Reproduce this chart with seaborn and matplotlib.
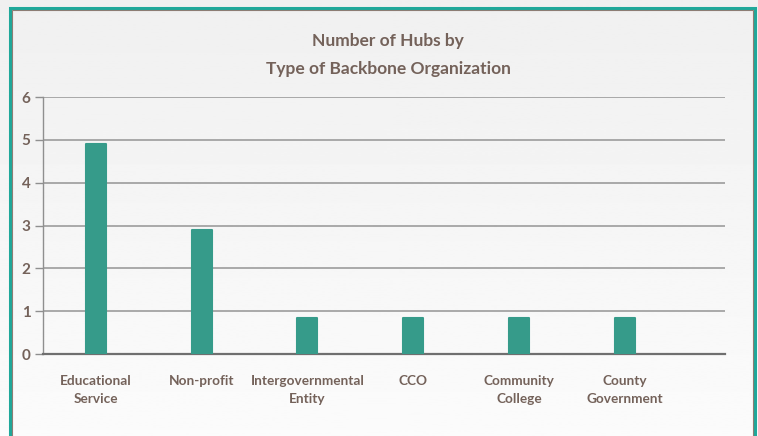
import numpy as np
import pandas as pd
import matplotlib
matplotlib.use("Agg")
import matplotlib.pyplot as plt
from matplotlib.patches import Rectangle
import seaborn as sns

# data
categories = ["Educational\nService", "Non-profit", "Intergovernmental\nEntity", "CCO",
              "Community\nCollege", "County\nGovernment"]
hubs = [4.9, 2.9, 0.85, 0.85, 0.85, 0.85]
y_ticks = [0, 1, 2, 3, 4, 5, 6]
title = "Number of Hubs by\nType of Backbone Organization"

text_col = "#74625a"
bar_col = "#369b8a"
grid_col = "#a3a3a3"

sns.set_theme(style="white")
plt.rcParams["font.family"] = ["Lato", "DejaVu Sans"]

df = pd.DataFrame({"type": categories, "hubs": hubs})

fig = plt.figure(figsize=(7.58, 4.36), dpi=100)

# soft gradient background + frame
bg = fig.add_axes([0, 0, 1, 1], zorder=-5)
grad = np.linspace(0.94, 0.985, 256).reshape(-1, 1)
bg.imshow(grad, aspect="auto", cmap="gray", vmin=0, vmax=1, extent=[0, 1, 0, 1], origin="upper")
bg.set_xlim(0, 1)
bg.set_ylim(0, 1)
bg.axis("off")
bg.add_patch(Rectangle((0, 0), 1, 1, transform=fig.transFigure, facecolor="white", zorder=-1))
bg.images[0].set_zorder(0)
bg.add_patch(Rectangle((10 / 758, -0.05), 745 / 758, 1.05 - 8 / 436, transform=fig.transFigure,
                       fill=False, edgecolor="#1fa89a", linewidth=2.2, zorder=2))
bg.add_patch(Rectangle((12 / 758, -0.05), 741 / 758, 1.05 - 10 / 436, transform=fig.transFigure,
                       fill=False, edgecolor="#8c7d74", linewidth=0.8, zorder=2))

ax = fig.add_axes([43 / 758, 1 - 354 / 436, 682 / 758, 257 / 436])
ax.patch.set_alpha(0)
sns.barplot(data=df, x="type", y="hubs", color=bar_col, width=0.19, saturation=1, ax=ax, zorder=3)
for p in ax.patches:
    p.set_edgecolor(bar_col)
    p.set_linewidth(1.5)
    p.set_joinstyle("round")

ax.set_ylim(0, 6)
ax.set_xlim(-0.5, 5.95)
ax.set_yticks(y_ticks)
ax.yaxis.grid(True, color=grid_col, linewidth=1.3, zorder=0)
ax.set_axisbelow(True)
for s in ["top", "right"]:
    ax.spines[s].set_visible(False)
ax.spines["left"].set_color("#8f8f8f")
ax.spines["left"].set_linewidth(1.0)
ax.spines["bottom"].set_color("#6f6f6f")
ax.spines["bottom"].set_linewidth(1.6)
ax.set_xlabel("")
ax.set_ylabel("")
ax.tick_params(axis="y", left=True, length=6, width=1, color="#8f8f8f", pad=3,
               labelsize=11, labelcolor=text_col)
ax.tick_params(axis="x", bottom=False, pad=9, labelsize=9.8, labelcolor=text_col)
for lbl in ax.get_yticklabels():
    lbl.set_fontweight("bold")
for lbl in ax.get_xticklabels():
    lbl.set_fontweight("bold")
    lbl.set_linespacing(1.6)

fig.text(388 / 758, 1 - 55 / 436, title, ha="center", va="center", fontsize=12.5,
         fontweight="bold", color=text_col, linespacing=1.85)

fig.savefig("out.png", dpi=100)
